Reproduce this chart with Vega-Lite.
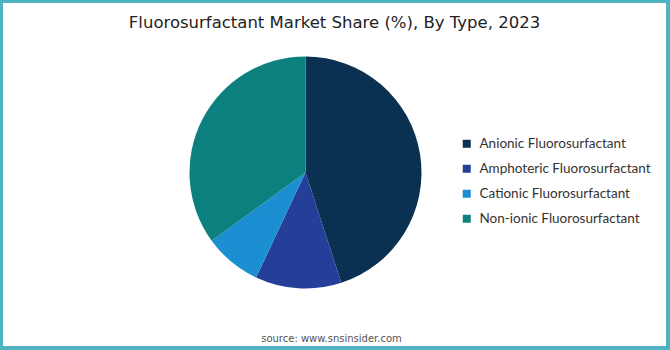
{
  "$schema": "https://vega.github.io/schema/vega-lite/v6.json",
  "width": 670,
  "height": 350,
  "autosize": {"type": "fit", "contains": "padding"},
  "padding": {"left": 3, "top": 3, "right": 4, "bottom": 4},
  "background": "#4fb3c2",
  "view": {"fill": "white", "stroke": null},
  "title": {
    "text": "Fluorosurfactant Market Share (%), By Type, 2023",
    "font": "DejaVu Sans",
    "fontSize": 16.5,
    "fontWeight": "normal",
    "color": "#222222",
    "anchor": "middle",
    "offset": -28
  },
  "config": {
    "view": {"fill": "white", "stroke": null}
  },
  "layer": [
    {
      "data": {
        "values": [
          {"type": "Anionic Fluorosurfactant", "share": 45, "ord": 1},
          {"type": "Amphoteric Fluorosurfactant", "share": 12, "ord": 2},
          {"type": "Cationic Fluorosurfactant", "share": 8, "ord": 3},
          {"type": "Non-ionic Fluorosurfactant", "share": 35, "ord": 4}
        ]
      },
      "mark": {"type": "arc", "outerRadius": 116, "x": {"expr": "width/2-29"}, "y": {"expr": "height/2-2"}},
      "encoding": {
        "theta": {"field": "share", "type": "quantitative", "stack": true},
        "order": {"field": "ord", "type": "quantitative"},
        "color": {
          "field": "type",
          "type": "nominal",
          "sort": ["Anionic Fluorosurfactant", "Amphoteric Fluorosurfactant", "Cationic Fluorosurfactant", "Non-ionic Fluorosurfactant"],
          "scale": {
            "domain": ["Anionic Fluorosurfactant", "Amphoteric Fluorosurfactant", "Cationic Fluorosurfactant", "Non-ionic Fluorosurfactant"],
            "range": ["#0a3152", "#233f98", "#1b8fd2", "#0c807e"]
          },
          "legend": {
            "title": null,
            "orient": "none",
            "legendX": 457,
            "legendY": 134,
            "symbolType": "square",
            "symbolSize": 64,
            "symbolStrokeWidth": 0,
            "labelFont": "Lato",
            "labelFontSize": 13.5,
            "labelColor": "#333333",
            "labelLimit": 300,
            "rowPadding": 10,
            "labelOffset": 6
          }
        }
      }
    },
    {
      "data": {"values": [{"label": "source: www.snsinsider.com"}]},
      "mark": {
        "type": "text",
        "x": {"expr": "width/2-3"},
        "y": {"expr": "height-7"},
        "font": "DejaVu Sans",
        "fontSize": 10,
        "color": "#555555",
        "align": "center",
        "baseline": "middle"
      },
      "encoding": {"text": {"field": "label"}}
    }
  ]
}
